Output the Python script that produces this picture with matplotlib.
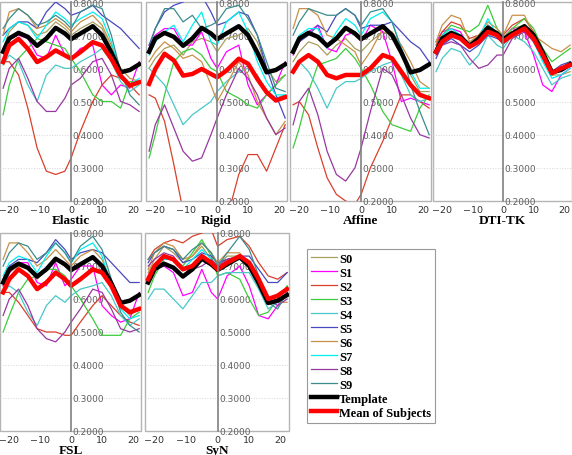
import numpy as np
import matplotlib
matplotlib.use('Agg')
import matplotlib.pyplot as plt

x = [-22, -20, -17, -14, -11, -8, -5, -2, 0, 3, 7, 10, 13, 16, 19, 22]

template = [0.650, 0.690, 0.707, 0.695, 0.668, 0.690, 0.722, 0.705, 0.688, 0.705, 0.727, 0.700, 0.648, 0.588, 0.595, 0.612]

subjects = ['S0', 'S1', 'S2', 'S3', 'S4', 'S5', 'S6', 'S7', 'S8', 'S9']
colors = ['#a89f5c', '#ff00ff', '#d8402c', '#3ccc3c', '#48c8c8',
          '#4848c0', '#c89048', '#00f0f0', '#9838a0', '#3c8c8c']

# rows are S0..S9
elastic = [
    [0.66, 0.71, 0.74, 0.73, 0.70, 0.71, 0.74, 0.72, 0.70, 0.72, 0.74, 0.72, 0.66, 0.58, 0.55, 0.56],
    [0.66, 0.69, 0.70, 0.69, 0.64, 0.63, 0.70, 0.64, 0.63, 0.66, 0.67, 0.55, 0.52, 0.55, 0.54, 0.62],
    [0.62, 0.62, 0.58, 0.48, 0.36, 0.29, 0.28, 0.29, 0.33, 0.41, 0.50, 0.55, 0.58, 0.57, 0.55, 0.52],
    [0.46, 0.55, 0.63, 0.66, 0.69, 0.68, 0.67, 0.66, 0.63, 0.59, 0.52, 0.50, 0.50, 0.48, 0.56, 0.56],
    [0.61, 0.64, 0.62, 0.55, 0.50, 0.58, 0.61, 0.60, 0.60, 0.62, 0.64, 0.66, 0.62, 0.56, 0.53, 0.55],
    [0.70, 0.72, 0.74, 0.74, 0.72, 0.77, 0.80, 0.78, 0.76, 0.77, 0.79, 0.76, 0.74, 0.72, 0.69, 0.66],
    [0.70, 0.77, 0.78, 0.76, 0.72, 0.73, 0.75, 0.73, 0.71, 0.74, 0.76, 0.73, 0.67, 0.60, 0.57, 0.56],
    [0.68, 0.72, 0.74, 0.73, 0.69, 0.73, 0.77, 0.75, 0.73, 0.75, 0.77, 0.75, 0.68, 0.58, 0.55, 0.57],
    [0.54, 0.60, 0.63, 0.57, 0.50, 0.47, 0.47, 0.51, 0.55, 0.57, 0.62, 0.63, 0.58, 0.50, 0.49, 0.47],
    [0.72, 0.75, 0.78, 0.76, 0.73, 0.74, 0.76, 0.74, 0.72, 0.77, 0.79, 0.78, 0.70, 0.59, 0.52, 0.49],
]
elastic_mean = [0.619, 0.669, 0.689, 0.659, 0.619, 0.634, 0.654, 0.639, 0.629, 0.649, 0.679, 0.669, 0.629, 0.578, 0.548, 0.558]

rigid = [
    [0.60, 0.63, 0.66, 0.67, 0.64, 0.68, 0.69, 0.68, 0.65, 0.69, 0.70, 0.72, 0.68, 0.60, 0.56, 0.58],
    [0.67, 0.70, 0.72, 0.72, 0.67, 0.67, 0.71, 0.63, 0.60, 0.65, 0.67, 0.55, 0.49, 0.52, 0.55, 0.62],
    [0.52, 0.51, 0.44, 0.31, 0.17, 0.08, 0.05, 0.06, 0.08, 0.14, 0.28, 0.34, 0.34, 0.29, 0.36, 0.43],
    [0.33, 0.40, 0.52, 0.62, 0.65, 0.66, 0.64, 0.60, 0.59, 0.53, 0.51, 0.49, 0.48, 0.52, 0.55, 0.58],
    [0.60, 0.58, 0.55, 0.49, 0.43, 0.46, 0.48, 0.50, 0.53, 0.56, 0.59, 0.60, 0.58, 0.53, 0.51, 0.52],
    [0.67, 0.72, 0.77, 0.79, 0.80, 0.82, 0.82, 0.77, 0.73, 0.74, 0.77, 0.76, 0.70, 0.60, 0.52, 0.45],
    [0.62, 0.65, 0.68, 0.66, 0.63, 0.64, 0.62, 0.55, 0.50, 0.55, 0.62, 0.58, 0.50, 0.45, 0.40, 0.44],
    [0.64, 0.68, 0.71, 0.73, 0.68, 0.73, 0.77, 0.68, 0.67, 0.74, 0.77, 0.71, 0.62, 0.56, 0.52, 0.52],
    [0.35, 0.43, 0.49, 0.42, 0.35, 0.32, 0.33, 0.40, 0.45, 0.52, 0.60, 0.57, 0.52, 0.45, 0.40, 0.42],
    [0.66, 0.72, 0.78, 0.78, 0.74, 0.76, 0.72, 0.73, 0.74, 0.78, 0.79, 0.75, 0.70, 0.62, 0.54, 0.53],
]
rigid_mean = [0.553, 0.598, 0.644, 0.624, 0.578, 0.583, 0.598, 0.583, 0.573, 0.593, 0.629, 0.614, 0.568, 0.528, 0.503, 0.513]

affine = [
    [0.62, 0.65, 0.68, 0.67, 0.64, 0.67, 0.69, 0.66, 0.65, 0.68, 0.71, 0.70, 0.65, 0.58, 0.53, 0.53],
    [0.64, 0.68, 0.71, 0.73, 0.66, 0.65, 0.70, 0.71, 0.68, 0.73, 0.71, 0.62, 0.50, 0.51, 0.50, 0.49],
    [0.49, 0.50, 0.46, 0.36, 0.27, 0.22, 0.20, 0.19, 0.22, 0.30, 0.38, 0.45, 0.52, 0.52, 0.50, 0.48],
    [0.36, 0.42, 0.53, 0.61, 0.62, 0.63, 0.66, 0.63, 0.60, 0.55, 0.47, 0.43, 0.42, 0.41, 0.48, 0.52],
    [0.60, 0.62, 0.59, 0.54, 0.48, 0.54, 0.56, 0.56, 0.57, 0.59, 0.61, 0.62, 0.58, 0.52, 0.50, 0.51],
    [0.66, 0.68, 0.70, 0.73, 0.71, 0.76, 0.78, 0.76, 0.72, 0.73, 0.73, 0.74, 0.71, 0.68, 0.66, 0.62],
    [0.72, 0.78, 0.78, 0.76, 0.70, 0.69, 0.67, 0.65, 0.61, 0.65, 0.72, 0.71, 0.67, 0.62, 0.56, 0.54],
    [0.66, 0.70, 0.72, 0.72, 0.66, 0.71, 0.75, 0.73, 0.70, 0.75, 0.77, 0.74, 0.66, 0.59, 0.54, 0.54],
    [0.43, 0.50, 0.54, 0.46, 0.35, 0.28, 0.26, 0.30, 0.36, 0.47, 0.60, 0.58, 0.52, 0.45, 0.40, 0.39],
    [0.70, 0.74, 0.78, 0.77, 0.76, 0.76, 0.78, 0.76, 0.73, 0.77, 0.78, 0.74, 0.66, 0.55, 0.47, 0.40],
]
affine_mean = [0.59, 0.62, 0.64, 0.62, 0.58, 0.57, 0.58, 0.58, 0.58, 0.60, 0.64, 0.63, 0.59, 0.55, 0.52, 0.51]

dtitk = [
    [0.66, 0.69, 0.71, 0.70, 0.67, 0.69, 0.73, 0.71, 0.69, 0.72, 0.73, 0.70, 0.64, 0.58, 0.58, 0.59],
    [0.68, 0.71, 0.72, 0.71, 0.66, 0.68, 0.72, 0.71, 0.69, 0.72, 0.71, 0.64, 0.55, 0.53, 0.58, 0.60],
    [0.67, 0.71, 0.74, 0.73, 0.69, 0.70, 0.73, 0.71, 0.70, 0.73, 0.75, 0.71, 0.65, 0.59, 0.60, 0.61],
    [0.66, 0.70, 0.73, 0.72, 0.71, 0.73, 0.79, 0.72, 0.69, 0.72, 0.75, 0.72, 0.66, 0.62, 0.64, 0.66],
    [0.59, 0.63, 0.66, 0.65, 0.61, 0.64, 0.70, 0.67, 0.66, 0.70, 0.68, 0.65, 0.60, 0.55, 0.57, 0.58],
    [0.63, 0.67, 0.69, 0.67, 0.65, 0.67, 0.70, 0.69, 0.68, 0.71, 0.72, 0.69, 0.64, 0.59, 0.61, 0.62],
    [0.68, 0.73, 0.76, 0.75, 0.68, 0.70, 0.74, 0.72, 0.70, 0.76, 0.76, 0.70, 0.68, 0.66, 0.65, 0.67],
    [0.66, 0.70, 0.72, 0.70, 0.66, 0.69, 0.75, 0.70, 0.67, 0.71, 0.72, 0.68, 0.62, 0.57, 0.58, 0.60],
    [0.64, 0.67, 0.68, 0.67, 0.63, 0.60, 0.61, 0.64, 0.64, 0.69, 0.71, 0.68, 0.63, 0.59, 0.60, 0.62],
    [0.65, 0.68, 0.70, 0.69, 0.66, 0.69, 0.73, 0.70, 0.68, 0.71, 0.72, 0.69, 0.63, 0.58, 0.60, 0.62],
]
dtitk_mean = [0.65, 0.68, 0.70, 0.69, 0.665, 0.68, 0.71, 0.70, 0.68, 0.70, 0.72, 0.69, 0.64, 0.585, 0.60, 0.61]

fsl = [
    [0.64, 0.68, 0.70, 0.69, 0.66, 0.69, 0.72, 0.70, 0.68, 0.71, 0.72, 0.70, 0.64, 0.58, 0.55, 0.57],
    [0.64, 0.68, 0.71, 0.71, 0.65, 0.64, 0.71, 0.64, 0.66, 0.70, 0.70, 0.58, 0.55, 0.53, 0.54, 0.62],
    [0.62, 0.62, 0.59, 0.55, 0.51, 0.50, 0.50, 0.49, 0.49, 0.53, 0.58, 0.61, 0.58, 0.55, 0.53, 0.52],
    [0.50, 0.55, 0.62, 0.66, 0.67, 0.69, 0.69, 0.67, 0.64, 0.60, 0.54, 0.49, 0.49, 0.49, 0.54, 0.56],
    [0.62, 0.64, 0.62, 0.56, 0.52, 0.58, 0.61, 0.59, 0.61, 0.63, 0.64, 0.65, 0.61, 0.55, 0.52, 0.54],
    [0.66, 0.70, 0.72, 0.72, 0.71, 0.74, 0.78, 0.75, 0.72, 0.74, 0.75, 0.74, 0.71, 0.68, 0.65, 0.65],
    [0.72, 0.77, 0.77, 0.74, 0.70, 0.72, 0.75, 0.72, 0.70, 0.73, 0.75, 0.72, 0.65, 0.58, 0.56, 0.57],
    [0.67, 0.71, 0.73, 0.72, 0.68, 0.73, 0.77, 0.74, 0.71, 0.75, 0.77, 0.73, 0.64, 0.57, 0.54, 0.55],
    [0.55, 0.60, 0.63, 0.58, 0.51, 0.48, 0.47, 0.50, 0.53, 0.57, 0.63, 0.62, 0.57, 0.51, 0.50, 0.51],
    [0.70, 0.74, 0.77, 0.76, 0.72, 0.74, 0.77, 0.74, 0.71, 0.76, 0.79, 0.75, 0.66, 0.56, 0.52, 0.50],
]
fsl_mean = [0.62, 0.66, 0.69, 0.67, 0.63, 0.65, 0.68, 0.66, 0.64, 0.66, 0.69, 0.68, 0.64, 0.58, 0.56, 0.57]

syn = [
    [0.68, 0.72, 0.76, 0.74, 0.71, 0.73, 0.76, 0.72, 0.70, 0.73, 0.73, 0.70, 0.65, 0.60, 0.61, 0.63],
    [0.66, 0.69, 0.70, 0.68, 0.61, 0.62, 0.69, 0.62, 0.60, 0.67, 0.70, 0.64, 0.55, 0.54, 0.58, 0.62],
    [0.72, 0.75, 0.77, 0.78, 0.77, 0.79, 0.80, 0.81, 0.76, 0.78, 0.79, 0.76, 0.71, 0.67, 0.66, 0.68],
    [0.62, 0.67, 0.72, 0.72, 0.70, 0.74, 0.78, 0.73, 0.67, 0.68, 0.66, 0.60, 0.55, 0.56, 0.60, 0.64],
    [0.60, 0.63, 0.63, 0.60, 0.57, 0.61, 0.65, 0.65, 0.67, 0.68, 0.68, 0.68, 0.63, 0.57, 0.59, 0.61],
    [0.71, 0.74, 0.76, 0.75, 0.71, 0.72, 0.74, 0.73, 0.71, 0.72, 0.73, 0.73, 0.69, 0.65, 0.65, 0.68],
    [0.69, 0.74, 0.77, 0.76, 0.72, 0.73, 0.77, 0.74, 0.71, 0.74, 0.74, 0.70, 0.64, 0.60, 0.59, 0.59],
    [0.66, 0.70, 0.72, 0.72, 0.69, 0.72, 0.75, 0.72, 0.69, 0.71, 0.72, 0.70, 0.65, 0.59, 0.59, 0.61],
    [0.70, 0.72, 0.74, 0.73, 0.69, 0.69, 0.70, 0.72, 0.70, 0.72, 0.73, 0.71, 0.66, 0.60, 0.58, 0.60],
    [0.72, 0.74, 0.76, 0.75, 0.72, 0.75, 0.77, 0.74, 0.70, 0.74, 0.79, 0.75, 0.67, 0.59, 0.57, 0.62],
]
syn_mean = [0.66, 0.70, 0.73, 0.72, 0.69, 0.70, 0.73, 0.71, 0.69, 0.71, 0.73, 0.71, 0.66, 0.60, 0.61, 0.63]

panels = [('Elastic', elastic, elastic_mean), ('Rigid', rigid, rigid_mean),
          ('Affine', affine, affine_mean), ('DTI-TK', dtitk, dtitk_mean),
          ('FSL', fsl, fsl_mean), ('SyN', syn, syn_mean)]

W, H = 572, 456
fig = plt.figure(figsize=(W / 100, H / 100), dpi=100)

# axes boxes in pixels: left, top, width, height
boxes = [(0, 3, 141, 199), (146, 3, 141, 199), (290, 3, 141, 199), (433, 3, 139, 199),
         (0, 234, 141, 198), (145, 234, 144, 198)]

serif = 'Liberation Serif'

for (name, subj, mean), (l, t, w, h) in zip(panels, boxes):
    ax = fig.add_axes([l / W, 1 - (t + h) / H, w / W, h / H])
    for yy in [0.3, 0.4, 0.5, 0.6, 0.7]:
        ax.axhline(yy, color='#d4d4dc', lw=0.7, ls=':', zorder=0)
    for i, vals in enumerate(subj):
        ax.plot(x, vals, color=colors[i], lw=0.9, label=subjects[i])
    ax.plot(x, template, color='black', lw=3.2, label='Template')
    ax.plot(x, mean, color='#ff0000', lw=3.2, label='Mean of Subjects')
    ax.set_xlim(-23, 22.6)
    ax.set_ylim(0.2, 0.8)

    # frame + centre axis line
    for s in ['left', 'top', 'bottom']:
        ax.spines[s].set_visible(False)
    ax.patch.set_edgecolor('#b4b4b4')
    ax.patch.set_linewidth(1.0)
    ax.spines['right'].set_position(('data', 0))
    ax.spines['right'].set_color('#808080')
    ax.spines['right'].set_linewidth(1.2)
    ax.yaxis.tick_right()
    ax.set_yticks([0.2, 0.3, 0.4, 0.5, 0.6, 0.7, 0.8])
    ax.set_yticklabels(['%.4f' % v for v in [0.2, 0.3, 0.4, 0.5, 0.6, 0.7, 0.8]])
    ax.tick_params(axis='y', length=0, pad=1, labelsize=6.5, labelcolor='#606060')
    ax.set_xticks([-20, -10, 0, 10, 20])
    ax.tick_params(axis='x', length=0, pad=3, labelsize=6.8, labelcolor='#303030')
    ax.set_xlabel(name, fontfamily=serif, fontweight='bold', fontsize=9.5, labelpad=0)

handles, labels = ax.get_legend_handles_labels()
leg = fig.legend(handles, labels, loc='upper left', bbox_to_anchor=(307 / W, 1 - 250 / H),
                 borderaxespad=0, fancybox=False, edgecolor='#808080', handlelength=2.1,
                 labelspacing=0.16, handletextpad=0.15, borderpad=0.3,
                 prop={'family': serif, 'weight': 'bold', 'size': 9})
leg.get_frame().set_linewidth(0.8)

plt.savefig('out.png', dpi=100)
